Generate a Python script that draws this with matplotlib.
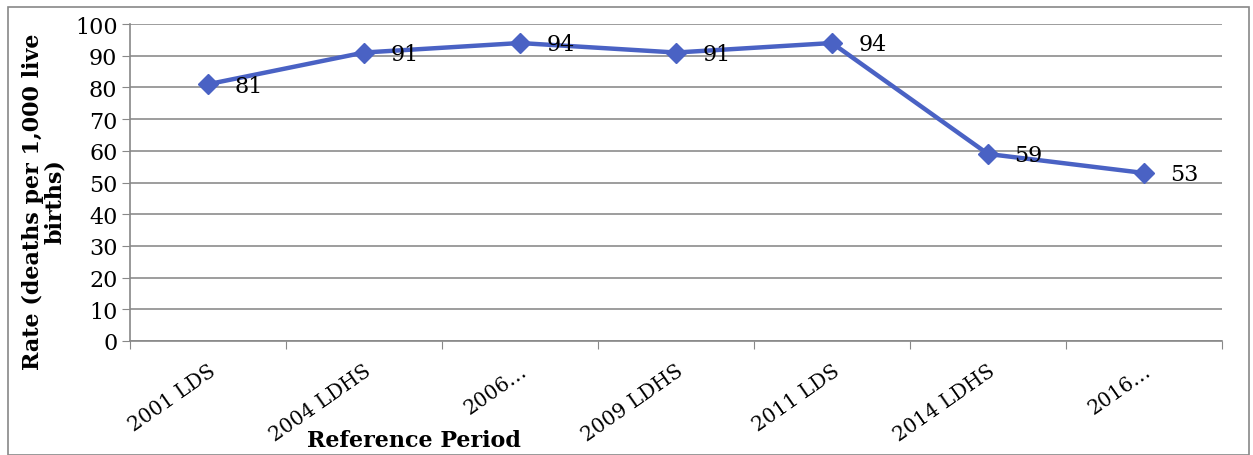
import matplotlib
matplotlib.use("Agg")
import matplotlib.pyplot as plt
from matplotlib.patches import Rectangle

categories = ["2001 LDS", "2004 LDHS", "2006…", "2009 LDHS", "2011 LDS", "2014 LDHS", "2016…"]
rates = [81, 91, 94, 91, 94, 59, 53]

plt.rcParams['font.family'] = ['DejaVu Serif']
W, H = 1253, 456
fig = plt.figure(figsize=(W/100, H/100), dpi=100)
ax = fig.add_axes([130/W, 1-342/H, (1222-130)/W, (342-25)/H])

x = list(range(len(categories)))
line_col = '#4A62C4'
ax.plot(x, rates, color=line_col, lw=3.2, marker='D', ms=10.5, mfc=line_col, mec=line_col, zorder=3)
for xi, v in zip(x, rates):
    ax.annotate(str(v), (xi, v), xytext=(19, -1), textcoords='offset points',
                ha='left', va='center', fontsize=16, color='black')

ax.set_xlim(-0.5, len(categories)-0.5)
ax.set_ylim(0, 100)
ax.set_yticks(range(0, 101, 10))
ax.tick_params(axis='y', labelsize=16, length=6, color='#888888', pad=3)
ax.yaxis.grid(True, color='#8c8c8c', lw=1.2)
ax.set_axisbelow(True)
ax.set_xticks([i - 0.5 for i in range(len(categories)+1)], minor=False)
ax.set_xticklabels([])
ax.set_xticks(x, minor=True)
ax.set_xticklabels(categories, minor=True, rotation=35, ha='right', rotation_mode='anchor', fontsize=14.5)
ax.tick_params(axis='x', which='major', length=6, color='#888888')
ax.tick_params(axis='x', which='minor', length=0, pad=14)
for s in ['top', 'right']:
    ax.spines[s].set_visible(False)
for s in ['left', 'bottom']:
    ax.spines[s].set_color('#888888')
    ax.spines[s].set_linewidth(1.2)

fig.text(44/W, 1-202/H, "Rate (deaths per 1,000 live\nbirths)", rotation=90, ha='center', va='center',
         fontsize=16, fontweight='bold', linespacing=1.0)
fig.text(414/W, 1-441/H, "Reference Period", ha='center', va='center', fontsize=16, fontweight='bold')

fig.patches.append(Rectangle((8/W, 0), (1249-8)/W, 1-8/H, transform=fig.transFigure,
                             fill=False, edgecolor='#888888', lw=1.2))
fig.savefig("out.png", dpi=100)
